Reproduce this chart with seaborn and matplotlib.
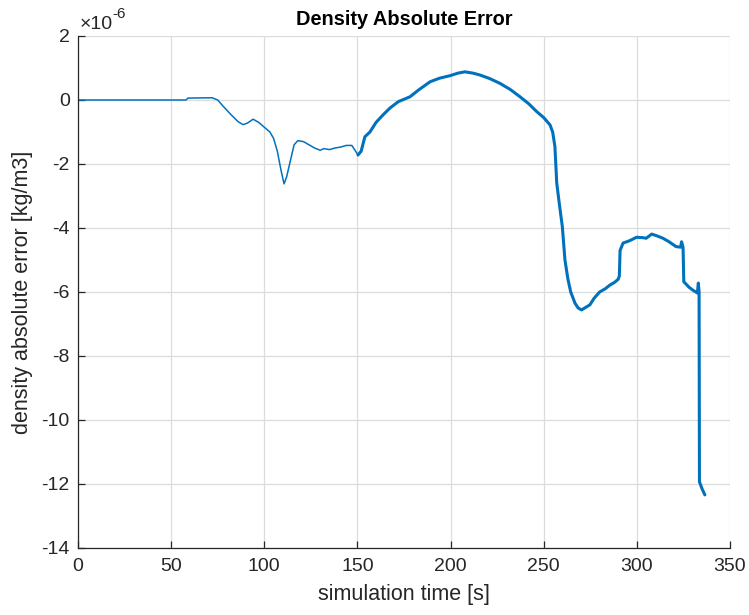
import matplotlib
matplotlib.use("Agg")
import matplotlib.pyplot as plt
import seaborn as sns
import pandas as pd
import numpy as np

# time [s]
time_s = [0, 55, 58, 59, 72, 75, 78, 82, 86, 88.6, 91, 94, 97, 100, 103, 105, 107, 109,
          110.6, 112, 114, 116, 118, 121, 124, 127, 130, 132, 135, 138, 141, 144, 147,
          149, 150.3, 152, 154, 156.7, 160, 164, 167.5, 172, 178.2, 183, 189, 194, 199.7,
          204, 207.7, 212, 215.8, 221, 226.5, 232, 237.3, 242, 246.2, 250, 253.4, 254.8,
          256, 257, 258.5, 260, 261.4, 263, 264.5, 266.8, 268.5, 270.3, 272, 274.8, 277,
          280, 283, 285.6, 288, 290, 290.6, 291, 292.6, 296, 299.8, 303, 305, 308, 311,
          314, 317, 321, 323.5, 324, 324.8, 325.2, 328, 330, 332.5, 333, 333.4, 333.6,
          335, 336.5]
# density absolute error [x1e-6 kg/m3]
error_e6 = [0, 0, 0, 0.06, 0.07, 0.0, -0.2, -0.45, -0.68, -0.77, -0.72, -0.6, -0.7, -0.85,
            -1.0, -1.2, -1.6, -2.2, -2.62, -2.4, -1.9, -1.4, -1.27, -1.3, -1.4, -1.5, -1.57,
            -1.52, -1.55, -1.5, -1.47, -1.42, -1.42, -1.6, -1.72, -1.6, -1.15, -1.0, -0.7,
            -0.45, -0.25, -0.05, 0.1, 0.32, 0.57, 0.68, 0.76, 0.84, 0.88, 0.84, 0.78, 0.67,
            0.52, 0.33, 0.1, -0.12, -0.36, -0.55, -0.78, -1.0, -1.45, -2.6, -3.3, -3.96, -5.0,
            -5.6, -6.0, -6.35, -6.5, -6.56, -6.5, -6.4, -6.2, -6.0, -5.9, -5.78, -5.7, -5.6,
            -5.5, -4.7, -4.47, -4.4, -4.29, -4.3, -4.32, -4.19, -4.25, -4.32, -4.42, -4.58,
            -4.6, -4.43, -4.6, -5.68, -5.85, -5.94, -6.03, -5.72, -6.0, -11.93, -12.15, -12.34]

x_ticks = [0, 50, 100, 150, 200, 250, 300, 350]
y_ticks = [-14, -12, -10, -8, -6, -4, -2, 0, 2]

df = pd.DataFrame({"time": time_s, "err": error_e6})

sns.set_theme(style="white")
plt.rcParams["font.family"] = ["Liberation Sans", "DejaVu Sans"]
plt.rcParams["axes.unicode_minus"] = False

fig = plt.figure(figsize=(7.49, 6.15), dpi=100)
ax = fig.add_axes([78 / 749, 1 - 548 / 615, (730 - 78) / 749, (548 - 36) / 615])

blue = "#0072BD"
early = df[df["time"] <= 152]
late = df[df["time"] >= 150.3]
sns.lineplot(data=early, x="time", y="err", ax=ax, color=blue, linewidth=1.1,
             sort=False, estimator=None)
sns.lineplot(data=late, x="time", y="err", ax=ax, color=blue, linewidth=2.2,
             sort=False, estimator=None)

ax.set_xlim(0, 350)
ax.set_ylim(-14, 2)
ax.set_xticks(x_ticks)
ax.set_yticks(y_ticks)
ax.set_xticklabels([str(v) for v in x_ticks])
ax.set_yticklabels([str(v) for v in y_ticks])

ax.grid(True, color="#dcdcdc", linewidth=0.9)
ax.set_axisbelow(True)
for s in ["top", "right"]:
    ax.spines[s].set_visible(False)
for s in ["left", "bottom"]:
    ax.spines[s].set_color("#262626")
    ax.spines[s].set_linewidth(0.9)

ax.tick_params(axis="both", direction="in", length=5, width=0.9, color="#262626",
               labelsize=14, labelcolor="#262626", left=True, bottom=True)
ax.tick_params(axis="x", pad=7)
ax.tick_params(axis="y", pad=6)

ax.set_xlabel("simulation time [s]", fontsize=15.5, color="#262626", labelpad=7)
ax.set_ylabel("density absolute error [kg/m3]", fontsize=15.5, color="#262626", labelpad=6)
ax.set_title("Density Absolute Error", fontsize=14.4, fontweight="bold", color="black", pad=8)

ax.text(0.002, 1.006, "\u00d710", transform=ax.transAxes,
        fontsize=14, color="#262626", ha="left", va="bottom")
ax.text(0.052, 1.03, "-6", transform=ax.transAxes,
        fontsize=11, color="#262626", ha="left", va="bottom")

fig.savefig("out.png", dpi=100)
